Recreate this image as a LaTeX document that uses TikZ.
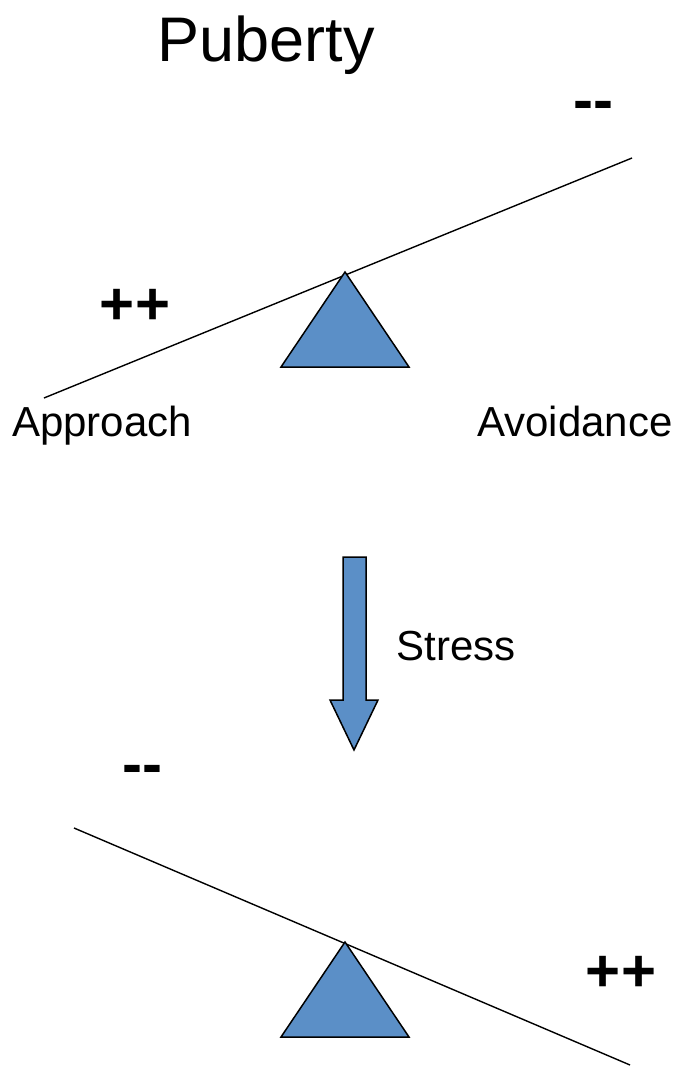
\documentclass[tikz,border=0pt]{standalone}
\usepackage{fontspec}
\setmainfont{Liberation Sans}
\usetikzlibrary{positioning, calc}
\definecolor{pivotblue}{RGB}{91,143,199}
\tikzset{
    beam/.style={draw=black, line width=1.4pt},
    pivot/.style={draw=black, fill=pivotblue, line width=1.5pt, line join=miter},
    sidetext/.style={font=\fontsize{42}{48}\selectfont, inner sep=0pt, anchor=base},
    sign/.style={font=\fontsize{60}{68}\selectfont\bfseries, inner sep=0pt},
    heading/.style={font=\fontsize{63}{72}\selectfont, inner sep=0pt, anchor=base}
}

\begin{document}
\begin{tikzpicture}[x=1pt, y=-1pt]
    \useasboundingbox (0,0) rectangle (678,1067);
    \node (title) [heading] at (266,62) {Puberty};

    % puberty: tilted towards approach
    \coordinate (topleft) at (44,398);
    \coordinate (topright) at (632,158);
    \draw [beam] (topleft) -- (topright);
    \filldraw [pivot] (345,272) -- (409,367) -- (281,367) -- cycle;
    \node (topminus) [sign] at (593,111) {-{}-};
    \node (topplus) [sign] at (135,307) {++};
    \node (approach) [sidetext] at (102,436) {Approach};
    \node (avoidance) [sidetext] at (575,436) {Avoidance};

    % stress arrow
    \filldraw [pivot] (343,557) -- (366,557) -- (366,700) -- (378,700) -- (354,750)
        -- (330,700) -- (343,700) -- cycle;
    \node (stress) [sidetext] at (456,660) {Stress};

    % after stress: tilted towards avoidance
    \coordinate (botleft) at (74,828);
    \coordinate (botright) at (630,1065);
    \draw [beam] (botleft) -- (botright);
    \filldraw [pivot] (345,942) -- (409,1037) -- (281,1037) -- cycle;
    \node (botminus) [sign] at (142,775) {-{}-};
    \node (botplus) [sign] at (621,974) {++};
\end{tikzpicture}
\end{document}
